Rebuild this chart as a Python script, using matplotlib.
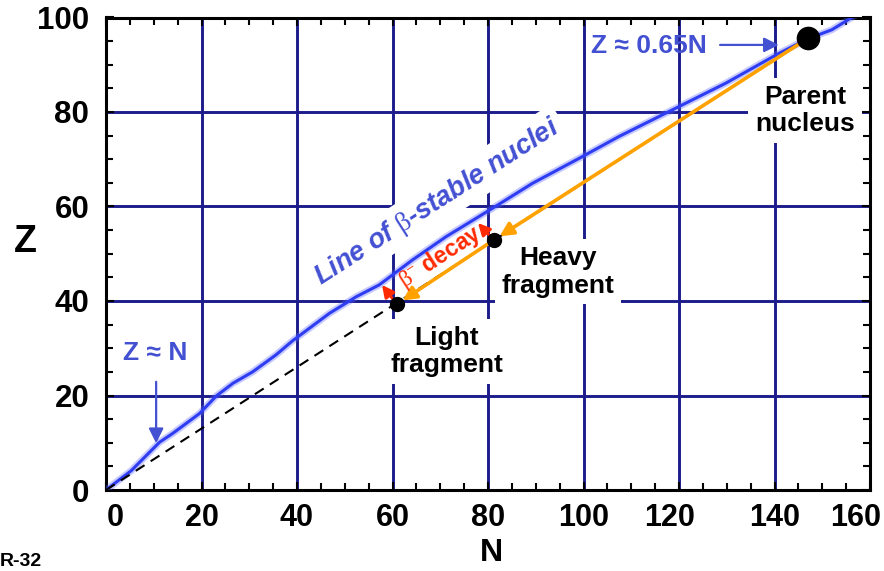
import matplotlib
matplotlib.use('Agg')
import matplotlib.pyplot as plt
import matplotlib.transforms as mtransforms
from matplotlib.ticker import MultipleLocator

plt.rcParams['font.family'] = ['Liberation Sans', 'DejaVu Sans']
plt.rcParams['mathtext.fontset'] = 'custom'
plt.rcParams['mathtext.rm'] = 'Liberation Serif'
plt.rcParams['mathtext.it'] = 'Liberation Serif:italic'
plt.rcParams['mathtext.bf'] = 'Liberation Serif:bold'

# ---- data ----
stable_N = [0, 5.3, 11.2, 14, 16.8, 19.6, 23.1, 26.6, 30.7, 35.6, 39.1, 46.8, 52.4,
            57.2, 64.2, 71.2, 80.9, 89.3, 99.1, 107.4, 119.3, 129.8, 140.9, 147, 152, 157]
stable_Z = [0, 4.1, 10.1, 12, 14.1, 16.2, 19.9, 22.6, 25, 28.6, 31.6, 37.4, 40.9,
            43.4, 48.7, 53.6, 59.6, 64.9, 70.2, 74.8, 80.8, 86.1, 92.4, 95.5, 97.4, 100.5]

parent_N, parent_Z = 147.0, 95.6
heavy_N, heavy_Z = 81.2, 52.9
light_N, light_Z = 60.9, 39.3
beta_tip_heavy = (77.9, 56.5)
beta_tip_light = (57.8, 43.4)

x_ticks = [0, 20, 40, 60, 80, 100, 120, 140, 160]
y_ticks = [0, 20, 40, 60, 80, 100]

BLUE_TXT = '#4350d2'
GRID = '#1c1c8c'
ORANGE = '#ffa200'
RED = '#ff2a00'

fig = plt.figure(figsize=(8.84, 5.71), dpi=100)
W, H = 884, 571
ax = fig.add_axes([106 / W, 1 - 490 / H, 764 / W, 472.5 / H])
ax.set_xlim(0, 160)
ax.set_ylim(0, 100)
ax.set_xticks(x_ticks)
ax.set_yticks(y_ticks)
ax.set_xticklabels([str(v) for v in x_ticks], fontsize=22, fontweight='bold')
ax.set_yticklabels([str(v) for v in y_ticks], fontsize=22.5, fontweight='bold')
ax.xaxis.set_minor_locator(MultipleLocator(5))
ax.yaxis.set_minor_locator(MultipleLocator(5))
ax.set_axisbelow(True)
ax.grid(True, which='major', color=GRID, lw=2.1)
ax.tick_params(which='both', direction='in', top=True, right=True, color='black', width=1.5)
ax.tick_params(which='major', length=6)
ax.tick_params(which='minor', length=5)
ax.tick_params(axis='x', which='major', pad=9)
ax.tick_params(axis='y', which='major', pad=12)
for s in ax.spines.values():
    s.set_linewidth(2.2)
    s.set_color('black')

# small horizontal nudges of some x tick labels as in the reference
nudges = {0: 9, 120: -9, 160: -14}
for lab, val in zip(ax.get_xticklabels(), x_ticks):
    if val in nudges:
        lab.set_transform(lab.get_transform() +
                          mtransforms.ScaledTranslation(nudges[val] / 100, 0, fig.dpi_scale_trans))

ax.set_xlabel('N', fontsize=23, fontweight='bold', va='center')
ax.xaxis.set_label_coords(0.504, -0.133)
ax.set_ylabel('Z', fontsize=27, fontweight='bold', rotation=0, ha='center', va='center')
ax.yaxis.set_label_coords(-0.106, 0.525)

# line of beta-stable nuclei
ax.plot(stable_N, stable_Z, color='#5a66ff', lw=5, alpha=0.35, zorder=3,
        solid_capstyle='round')
ax.plot(stable_N, stable_Z, color='#2e3cf2', lw=2.2, zorder=3.1)

# Z ~ 0.65 N dashed line
ax.plot([0, parent_N], [0, parent_Z], color='black', lw=1.5, dashes=(5, 3.5), zorder=3.2)

# orange fission arrows
ax.annotate('', xy=(heavy_N, heavy_Z), xytext=(parent_N, parent_Z),
            arrowprops=dict(arrowstyle='-|>', color=ORANGE, lw=2.6, mutation_scale=20,
                            shrinkA=8, shrinkB=5), zorder=4)
ax.annotate('', xy=(light_N, light_Z), xytext=(heavy_N, heavy_Z),
            arrowprops=dict(arrowstyle='-|>', color=ORANGE, lw=2.6, mutation_scale=20,
                            shrinkA=5, shrinkB=5), zorder=4)

# red beta-decay arrows
ax.annotate('', xy=beta_tip_heavy, xytext=(heavy_N, heavy_Z),
            arrowprops=dict(arrowstyle='-|>', color=RED, lw=2, mutation_scale=18,
                            shrinkA=4, shrinkB=0), zorder=4.5)
ax.annotate('', xy=beta_tip_light, xytext=(light_N, light_Z),
            arrowprops=dict(arrowstyle='-|>', color=RED, lw=2, mutation_scale=18,
                            shrinkA=4, shrinkB=0), zorder=4.5)

# nuclei
ax.plot([parent_N], [parent_Z], 'o', color='black', ms=16, zorder=6)
ax.plot([heavy_N, light_N], [heavy_Z, light_Z], 'o', color='black', ms=10, zorder=6)

# text labels with white boxes
box = dict(facecolor='white', edgecolor='none', pad=5)
ax.text(146.4, 80.3, 'Parent\nnucleus', fontsize=19, fontweight='bold', ha='center',
        va='center', linespacing=1.2, bbox=box, zorder=2.5)
ax.text(94.7, 46.2, 'Heavy\nfragment', fontsize=19, fontweight='bold', ha='center',
        va='center', linespacing=1.2, bbox=box, zorder=2.5)
ax.text(71.4, 29.3, 'Light\nfragment', fontsize=19, fontweight='bold', ha='center',
        va='center', linespacing=1.2, bbox=box, zorder=2.5)

ax.text(69.3, 61.0, r'Line of $\mathrm{\beta}$-stable nuclei', fontsize=19.5,
        fontweight='bold', fontstyle='italic', color=BLUE_TXT, rotation=32.7,
        rotation_mode='anchor', ha='center', va='center',
        bbox=dict(facecolor='white', edgecolor='none', pad=4), zorder=2.6)
ax.text(70.0, 49.4, r'$\mathrm{\beta}^{-}$ decay', fontsize=16.5, fontweight='bold',
        color=RED, rotation=33, rotation_mode='anchor', ha='center', va='center', zorder=5)

# Z ~ 0.65N annotation
ax.annotate('', xy=(140.9, 94.2), xytext=(128.6, 94.2),
            arrowprops=dict(arrowstyle='-|>', color=BLUE_TXT, lw=1.6, mutation_scale=22,
                            shrinkA=0, shrinkB=0), zorder=5)
ax.text(113.6, 93.9, 'Z \u2248 0.65N', fontsize=19, fontweight='bold', color=BLUE_TXT,
        ha='center', va='center', zorder=5)

# Z ~ N annotation
ax.annotate('', xy=(10.5, 9.9), xytext=(10.5, 22.9),
            arrowprops=dict(arrowstyle='-|>', color=BLUE_TXT, lw=1.6, mutation_scale=22,
                            shrinkA=0, shrinkB=0), zorder=5)
ax.text(10.4, 29.0, 'Z \u2248 N', fontsize=19, fontweight='bold', color=BLUE_TXT,
        ha='center', va='center', zorder=5)

# slide footer
fig.text(0 / W, 1 - 562 / H, 'R-32', fontsize=14, fontweight='bold', ha='left',
         va='center')

fig.savefig('out.png', dpi=100)
